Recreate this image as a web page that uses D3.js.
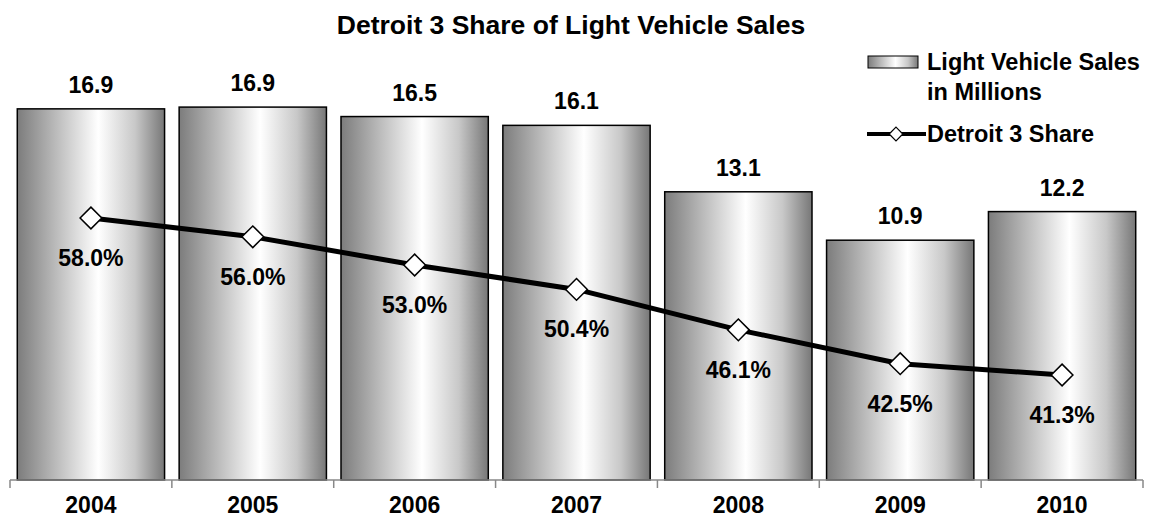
<!DOCTYPE html>
<html>
<head>
<meta charset="utf-8">
<script src="https://cdn.jsdelivr.net/npm/d3@7"></script>
<style>
  html, body { margin: 0; padding: 0; background: #fff; }
  svg { display: block; font-family: "Liberation Sans", Arial, sans-serif; }
</style>
</head>
<body>
<svg id="chart" width="1158" height="517"></svg>
<script>
const years = ["2004", "2005", "2006", "2007", "2008", "2009", "2010"];
const sales = [16.87, 16.95, 16.52, 16.12, 13.1, 10.9, 12.2];
const share = [58.0, 56.0, 53.0, 50.4, 46.1, 42.5, 41.3];
const titleText = "Detroit 3 Share of Light Vehicle Sales";
const legendBar = ["Light Vehicle Sales", "in Millions"];
const legendLine = "Detroit 3 Share";

const svg = d3.select("#chart");
const x0 = 10, x1 = 1143, yBase = 480;

const x = d3.scaleBand().domain(years).range([x0, x1]).paddingInner(0.09).paddingOuter(0.045);
const y = d3.scaleLinear().domain([0, 20]).range([yBase, 40]);
const y2 = d3.scaleLinear().domain([40, 60]).range([387.2, 199.2]);

const defs = svg.append("defs");
const grad = defs.append("linearGradient").attr("id", "barGrad").attr("x1", "0%").attr("x2", "100%").attr("y1", "0%").attr("y2", "0%");
[["0%", "#7c7c7c"], ["25%", "#b8b8b8"], ["55%", "#ffffff"], ["80%", "#c8c8c8"], ["100%", "#777777"]]
  .forEach(([o, c]) => grad.append("stop").attr("offset", o).attr("stop-color", c));

const FS = 23;
const LFS = 23.5;

// title
svg.append("text").attr("x", 571).attr("y", 34).attr("text-anchor", "middle")
  .attr("font-size", 26.5).attr("font-weight", "bold").text(titleText);

// bars
svg.append("g").selectAll("rect").data(years).join("rect")
  .attr("x", (d) => x(d))
  .attr("y", (d, i) => y(sales[i]))
  .attr("width", x.bandwidth())
  .attr("height", (d, i) => yBase - y(sales[i]))
  .attr("fill", "url(#barGrad)")
  .attr("stroke", "#000").attr("stroke-width", 1.5);

// bar labels
svg.append("g").selectAll("text").data(years).join("text")
  .attr("x", (d) => x(d) + x.bandwidth() / 2)
  .attr("y", (d, i) => y(sales[i]) - 16)
  .attr("text-anchor", "middle").attr("font-size", FS).attr("font-weight", "bold")
  .text((d, i) => d3.format(".1f")(sales[i]));

// x axis
const outer = d3.scalePoint().domain(d3.range(years.length + 1)).range([x0, x1]);
const axisG = svg.append("g");
axisG.append("line").attr("x1", x0).attr("x2", x1).attr("y1", yBase).attr("y2", yBase)
  .attr("stroke", "#888").attr("stroke-width", 1.5);
axisG.selectAll("line.tick").data(outer.domain()).join("line").attr("class", "tick")
  .attr("x1", (d) => outer(d)).attr("x2", (d) => outer(d))
  .attr("y1", yBase).attr("y2", yBase + 8).attr("stroke", "#888").attr("stroke-width", 1.5);
axisG.selectAll("text").data(years).join("text")
  .attr("x", (d) => x(d) + x.bandwidth() / 2).attr("y", 513)
  .attr("text-anchor", "middle").attr("font-size", FS).attr("font-weight", "bold").text((d) => d);

// line
const cx = (d) => x(d) + x.bandwidth() / 2;
const line = d3.line().x((d, i) => cx(years[i])).y((d) => y2(d));
svg.append("path").datum(share).attr("d", line).attr("fill", "none")
  .attr("stroke", "#000").attr("stroke-width", 5).attr("stroke-linejoin", "round");

const diamond = d3.symbol().type(d3.symbolDiamond2).size(300);
svg.append("g").selectAll("path").data(share).join("path")
  .attr("transform", (d, i) => `translate(${cx(years[i])},${y2(d)})`)
  .attr("d", diamond).attr("fill", "#fff").attr("stroke", "#000").attr("stroke-width", 1.5);

svg.append("g").selectAll("text").data(share).join("text")
  .attr("x", (d, i) => cx(years[i]))
  .attr("y", (d) => y2(d) + 48)
  .attr("text-anchor", "middle").attr("font-size", FS).attr("font-weight", "bold")
  .text((d) => d3.format(".1f")(d) + "%");

// legend
const lg = svg.append("g");
lg.append("rect").attr("x", 868).attr("y", 56).attr("width", 50).attr("height", 12)
  .attr("fill", "url(#barGrad)").attr("stroke", "#000").attr("stroke-width", 1);
lg.append("text").attr("x", 927).attr("y", 70).attr("font-size", LFS).attr("font-weight", "bold").text(legendBar[0]);
lg.append("text").attr("x", 927).attr("y", 100).attr("font-size", LFS).attr("font-weight", "bold").text(legendBar[1]);
lg.append("line").attr("x1", 867).attr("x2", 926).attr("y1", 134).attr("y2", 134)
  .attr("stroke", "#000").attr("stroke-width", 4);
lg.append("path").attr("transform", "translate(896,134)")
  .attr("d", d3.symbol().type(d3.symbolDiamond2).size(120)).attr("fill", "#fff").attr("stroke", "#000").attr("stroke-width", 1.2);
lg.append("text").attr("x", 927).attr("y", 142).attr("font-size", LFS).attr("font-weight", "bold").text(legendLine);
</script>
</body>
</html>
